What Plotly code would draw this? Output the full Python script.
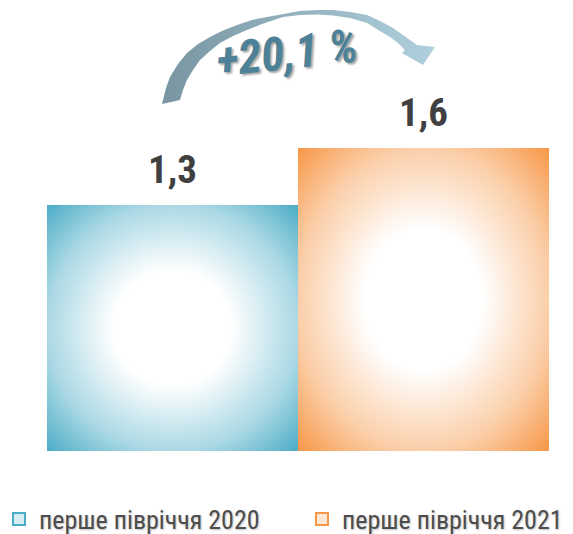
import plotly.graph_objects as go

# ---- data ----
categories = ["перше півріччя 2020", "перше півріччя 2021"]
values = [1.3, 1.6]
value_labels = ["1,3", "1,6"]
edge_colors = ["#4bacc6", "#f79646"]
change_label = "+20,1 %"

# ---- decorative curved arrow outline (window pixel coordinates) ----
arrow_x = [162, 166, 170, 178, 187, 198, 210, 222, 237, 252, 267, 283, 300, 317, 333, 350, 367, 380, 393, 403, 410, 417,
           435, 423, 402, 405,
           398, 390, 380, 367, 350, 333, 317, 300, 283, 262, 247, 233, 220, 210, 200, 193, 187, 183, 180]
arrow_y = [104, 88, 77, 64, 53, 44, 37, 31, 25, 20, 17, 14, 11, 10, 10, 12, 15, 21, 28, 35, 40, 45,
           47, 65, 53, 50,
           43, 37, 31, 23, 18, 15.5, 14.5, 15, 17, 24, 30, 36, 43, 51, 60, 70, 80, 90, 100]

WIN_W, WIN_H = 573, 534
OFF = 8                      # page body margin
W, H = WIN_W - OFF, WIN_H - OFF
NARROW = "Roboto Condensed, Liberation Sans Narrow, Arial Narrow, sans-serif"


def blend(hex_col, f):
    h = hex_col.lstrip("#")
    rgb = [int(h[k:k + 2], 16) for k in (0, 2, 4)]
    mixed = [round(255 + (c - 255) * f) for c in rgb]
    return "#%02x%02x%02x" % tuple(mixed)


fig = go.Figure()

# bars drawn as gradient-filled rectangles on the category/value axes
K = 2 ** 0.5
for i, (cat, v, col) in enumerate(zip(categories, values, edge_colors)):
    x0, x1 = i - 0.5, i + 0.5
    cx, cy = float(i), v / 2
    hw, hh = 0.5 * K, (v / 2) * K
    xs = [x0, x1, x1, x0, x0, None, cx - hw, cx + hw]
    ys = [0, 0, v, v, 0, None, cy - hh, cy + hh]
    fig.add_trace(go.Scatter(
        x=xs, y=ys, mode="lines", fill="toself",
        line=dict(width=0, color=col),
        fillgradient=dict(type="radial",
                          colorscale=[[0, "#ffffff"], [0.33, "#ffffff"],
                                      [0.707, blend(col, 0.47)], [1, col]]),
        showlegend=False, hoverinfo="skip", name=cat,
    ))

# legend entries (one legend each, to place them like the original)
for k, (cat, col) in enumerate(zip(categories, edge_colors)):
    fig.add_trace(go.Bar(
        x=[None], y=[None], name=cat,
        legend="legend" if k == 0 else "legend2",
        marker=dict(color=blend(col, 0.22), line=dict(color=col, width=2)),
    ))

# value labels
for i, (v, lab) in enumerate(zip(values, value_labels)):
    fig.add_annotation(x=i, y=v, text=lab, showarrow=False, yanchor="bottom", yshift=10,
                       font=dict(family=NARROW, size=39, color="#404040", weight="bold"))

# arrow
fig.add_trace(go.Scatter(
    x=arrow_x, y=arrow_y, xaxis="x2", yaxis="y2", mode="lines", fill="toself",
    line=dict(width=0, color="#8fb0bd"),
    fillgradient=dict(type="horizontal", colorscale=[[0, "#7895a1"], [1, "#b0d0dd"]]),
    showlegend=False, hoverinfo="skip",
))
fig.add_annotation(xref="x2", yref="y2", x=287, y=52, text=change_label, showarrow=False,
                   textangle=-6,
                   font=dict(family=NARROW, size=47, color="#4d8197", weight="bold", style="italic",
                             shadow="2px 2px 2px rgba(0,0,0,0.35)"))

legend_font = dict(family=NARROW, size=26, color="#4d4d4d", shadow="1px 1px 2px rgba(0,0,0,0.25)")
fig.update_layout(
    width=W, height=H,
    margin=dict(l=0, r=0, t=0, b=0, autoexpand=False),
    paper_bgcolor="white", plot_bgcolor="rgba(0,0,0,0)",
    barmode="overlay",
    xaxis=dict(domain=[(47 - OFF) / W, (549 - OFF) / W], range=[-0.5, 1.5], visible=False),
    yaxis=dict(domain=[(WIN_H - 451) / H, 1], range=[0, (451 - OFF) / 189.3], visible=False),
    xaxis2=dict(domain=[0, 1], range=[OFF, WIN_W], visible=False, anchor="y2"),
    yaxis2=dict(domain=[0, 1], range=[WIN_H, OFF], visible=False, anchor="x2"),
    legend=dict(orientation="h", x=(39 - 40 - OFF) / W, xanchor="left", y=(WIN_H - 519) / H, yanchor="middle",
                font=legend_font, bgcolor="rgba(0,0,0,0)"),
    legend2=dict(orientation="h", x=(342 - 40 - OFF) / W, xanchor="left", y=(WIN_H - 519) / H, yanchor="middle",
                 font=legend_font, bgcolor="rgba(0,0,0,0)"),
    showlegend=True,
)

fig.write_html("out.html")
